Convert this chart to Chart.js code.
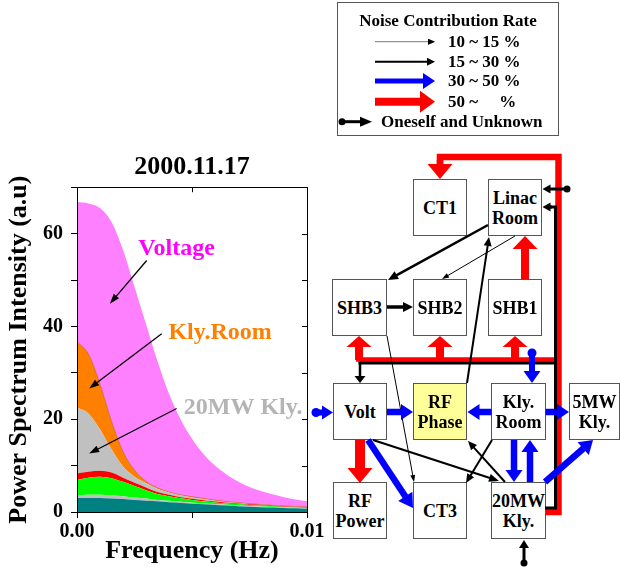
<!DOCTYPE html>
<html>
<head>
<meta charset="utf-8">
<script src="https://cdn.jsdelivr.net/npm/chart.js@4/dist/chart.umd.min.js"></script>
<style>
  body{margin:0;background:#fff;}
  #wrap{position:relative;width:620px;height:568px;overflow:hidden;font-family:"Liberation Serif","Times New Roman",serif;font-weight:bold;color:#000;}
  #c{position:absolute;left:0;top:0;}
  .box{position:absolute;box-sizing:border-box;border:1px solid #555;background:#fff;display:flex;align-items:center;justify-content:center;text-align:center;font-size:18px;line-height:20px;white-space:nowrap;}
  #diag{position:absolute;left:0;top:0;}
  .lg{position:absolute;font-size:17px;line-height:20px;white-space:pre;}
  #legend{position:absolute;left:337px;top:2px;width:222px;height:134px;box-sizing:border-box;border:1px solid #555;background:#fff;}
</style>
</head>
<body>
<div id="wrap">
  <canvas id="c" width="620" height="568" style="width:620px;height:568px"></canvas>
  <div id="legend"></div>
  <div id="boxes"></div>
  <svg id="diag" width="620" height="568" xmlns="http://www.w3.org/2000/svg"></svg>
  <div id="ltext"></div>
</div>
<script>
// ---------------- data ----------------
const freqs = [0, 0.0005, 0.001, 0.0015, 0.002, 0.0025, 0.003, 0.0035, 0.004, 0.0045, 0.005,
               0.0055, 0.006, 0.0065, 0.007, 0.0075, 0.008, 0.0085, 0.009, 0.0095, 0.01];
// cumulative tops of each stacked band (a.u)
const oneselfTop  = [3.0, 3.0, 3.0, 2.9, 2.8, 2.6, 2.45, 2.3, 2.1, 1.95, 1.8, 1.65, 1.5, 1.38, 1.25, 1.15, 1.05, 0.95, 0.87, 0.8, 0.72];
const grayLowTop  = [3.6, 3.7, 3.7, 3.6, 3.4, 3.1, 2.9, 2.6, 2.4, 2.2, 2.0, 1.85, 1.7, 1.55, 1.4, 1.3, 1.2, 1.1, 1.0, 0.9, 0.8];
const greenTop    = [6.9, 7.4, 7.6, 7.3, 6.5, 5.6, 4.7, 3.9, 3.4, 2.95, 2.6, 2.3, 2.05, 1.85, 1.7, 1.5, 1.4, 1.25, 1.1, 1.0, 0.9];
const redTop      = [8.3, 8.7, 8.9, 8.5, 7.4, 6.3, 5.3, 4.3, 3.7, 3.2, 2.85, 2.55, 2.25, 2.0, 1.85, 1.65, 1.5, 1.35, 1.2, 1.1, 1.0];
const kly20Top    = [22.5, 21.2, 17.8, 13.5, 9.8, 7.6, 6.2, 5.0, 4.2, 3.6, 3.15, 2.8, 2.45, 2.15, 1.95, 1.75, 1.55, 1.4, 1.25, 1.15, 1.05];
const klyRoomTop  = [36.7, 34.0, 27.5, 19.5, 13.0, 9.0, 6.6, 5.2, 4.3, 3.7, 3.3, 2.9, 2.55, 2.25, 2.0, 1.8, 1.6, 1.45, 1.3, 1.2, 1.1];
const voltageTop  = [66.8, 66.5, 65.5, 62.5, 56.5, 48.5, 40.5, 32.5, 25.5, 20.0, 15.8, 12.5, 10.0, 8.1, 6.6, 5.4, 4.5, 3.8, 3.2, 2.7, 2.3];
const bottomTrace = [null, null, 0.3, 0.3, 0.3, null, null, null, null, null, null, null, null, null, null, null, null, null, null, null, null];
const seriesNames = ['Oneself', 'Other', 'Green', 'Red', '20MW Kly.', 'Kly.Room', 'Voltage'];
const xTickLabels = ['0.00', '', '0.01'];
const yTickLabels = ['0', '', '20', '', '40', '', '60', ''];
const chartTitle = '2000.11.17';
const xTitle = 'Frequency (Hz)';
const yTitle = 'Power Spectrum Intensity (a.u)';
// annotation labels, anchored in data units
const noteText  = ['Voltage', 'Kly.Room', '20MW Kly.'];
const noteAt    = [[0.00433, 56.8], [0.00622, 38.7], [0.00722, 22.5]];
const noteFrom  = [[0.00303, 54.2], [0.00368, 38.4], [0.00433, 22.3]];
const noteTo    = [[0.00143, 44.9], [0.00053, 26.6], [0.00053, 12.6]];

// ---------------- styles ----------------
const FONT = '"Liberation Serif","Times New Roman",serif';
const bandColors = ['#008080', '#C0C0C0', '#00FF00', '#FF0000', '#C0C0C0', '#FF8000', '#FF80FF'];
const noteColors = ['#FF00FF', '#FF8000', '#B4B4B4'];
const tops = [oneselfTop, grayLowTop, greenTop, redTop, kly20Top, klyRoomTop, voltageTop];

const datasets = tops.map((arr, i) => ({
  label: seriesNames[i],
  data: freqs.map((f, j) => ({x: f, y: arr[j]})),
  backgroundColor: bandColors[i],
  borderColor: i === 5 ? '#B05800' : bandColors[i],
  borderWidth: i === 5 ? 0.6 : 0,
  pointRadius: 0,
  fill: i === 0 ? 'origin' : '-1',
  cubicInterpolationMode: 'monotone'
}));
datasets.push({
  label: 'trace',
  data: freqs.map((f, j) => ({x: f, y: bottomTrace[j]})),
  borderColor: '#B03030', borderWidth: 1.5, pointRadius: 0, fill: false, spanGaps: false
});

function drawArrowCtx(ctx, x1, y1, x2, y2, w, hw, hl, color) {
  const dx = x2 - x1, dy = y2 - y1, L = Math.hypot(dx, dy);
  const ux = dx / L, uy = dy / L, px = -uy, py = ux;
  const bx = x2 - ux * hl, by = y2 - uy * hl;
  ctx.save();
  ctx.strokeStyle = color; ctx.lineWidth = w;
  ctx.beginPath(); ctx.moveTo(x1, y1); ctx.lineTo(bx, by); ctx.stroke();
  ctx.fillStyle = color;
  ctx.beginPath();
  ctx.moveTo(x2, y2);
  ctx.lineTo(bx + px * hw / 2, by + py * hw / 2);
  ctx.lineTo(bx - px * hw / 2, by - py * hw / 2);
  ctx.closePath(); ctx.fill();
  ctx.restore();
}

const framePlugin = {
  id: 'frame',
  afterDraw(chart) {
    const {ctx, chartArea: a, scales: {x, y}} = chart;
    ctx.save();
    ctx.strokeStyle = '#000'; ctx.lineWidth = 1;
    ctx.strokeRect(Math.round(a.left) + 0.5, Math.round(a.top) + 0.5, Math.round(a.right - a.left), Math.round(a.bottom - a.top));
    ctx.beginPath();
    y.ticks.forEach(t => {
      const py = Math.round(y.getPixelForValue(t.value)) + 0.5;
      ctx.moveTo(a.right - 5, py); ctx.lineTo(a.right, py);
    });
    x.ticks.forEach(t => {
      const px = Math.round(x.getPixelForValue(t.value)) + 0.5;
      ctx.moveTo(px, a.top); ctx.lineTo(px, a.top + 5);
    });
    ctx.stroke();
    // annotations
    ctx.font = 'bold 24px ' + FONT;
    ctx.textAlign = 'center'; ctx.textBaseline = 'middle';
    noteText.forEach((txt, i) => {
      ctx.fillStyle = noteColors[i];
      ctx.fillText(txt, x.getPixelForValue(noteAt[i][0]), y.getPixelForValue(noteAt[i][1]));
      drawArrowCtx(ctx, x.getPixelForValue(noteFrom[i][0]), y.getPixelForValue(noteFrom[i][1]),
                   x.getPixelForValue(noteTo[i][0]), y.getPixelForValue(noteTo[i][1]), 1.3, 7, 10, '#000');
    });
    ctx.restore();
  }
};

new Chart(document.getElementById('c'), {
  type: 'line',
  data: {datasets},
  options: {
    responsive: false, animation: false,
    layout: {padding: {left: 0, top: 140, right: 313, bottom: 0}},
    plugins: {
      legend: {display: false}, tooltip: {enabled: false},
      title: {display: true, fullSize: false, text: chartTitle, color: '#000',
              font: {family: FONT, size: 26, weight: 'bold'}, padding: {top: 12, bottom: 4}},
      filler: {propagate: false}
    },
    scales: {
      x: {
        type: 'linear', min: 0, max: 0.01,
        afterFit: s => { s.height = 56; },
        ticks: {stepSize: 0.005, autoSkip: false, maxRotation: 0, color: '#000', padding: 2,
                font: {family: FONT, size: 20, weight: 'bold'},
                callback: (v, i) => xTickLabels[i]},
        grid: {drawOnChartArea: false, drawTicks: true, tickLength: 6, color: '#000'},
        border: {color: '#000', width: 1},
        title: {display: true, text: xTitle, color: '#000', font: {family: FONT, size: 26, weight: 'bold'},
                padding: {top: 0, bottom: 1}}
      },
      y: {
        min: 0, max: 70,
        afterFit: s => { s.width = 77; },
        ticks: {stepSize: 10, autoSkip: false, color: '#000', padding: 8,
                font: {family: FONT, size: 20, weight: 'bold'},
                callback: (v, i) => yTickLabels[i]},
        grid: {drawOnChartArea: false, drawTicks: true, tickLength: 6, color: '#000'},
        border: {color: '#000', width: 1},
        title: {display: true, text: yTitle, color: '#000', font: {family: FONT, size: 26, weight: 'bold'},
                padding: {top: 4, bottom: 0}}
      }
    }
  },
  plugins: [framePlugin]
});

// ---------------- diagram (schematic, not data) ----------------
const boxes = [
  ['CT1', 413, 179, 54], ['Linac<br>Room', 488, 179, 54],
  ['SHB3', 332, 279, 55], ['SHB2', 413, 279, 54], ['SHB1', 488, 279, 54],
  ['Volt', 333, 383, 54], ['RF<br>Phase', 413, 383, 54], ['Kly.<br>Room', 491, 383, 55], ['5MW<br>Kly.', 569, 383, 51],
  ['RF<br>Power', 333, 482, 54], ['CT3', 413, 482, 54], ['20MW<br>Kly.', 491, 482, 55]
];
const bx = document.getElementById('boxes');
boxes.forEach(([t, l, tp, w]) => {
  const d = document.createElement('div');
  d.className = 'box';
  d.style.left = l + 'px'; d.style.top = tp + 'px'; d.style.width = w + 'px'; d.style.height = '57px';
  if (t === 'RF<br>Phase') d.style.background = '#FFFF99';
  d.innerHTML = t;
  bx.appendChild(d);
});

const svg = document.getElementById('diag');
const NS = 'http://www.w3.org/2000/svg';
function el(name, attrs) { const e = document.createElementNS(NS, name); for (const k in attrs) e.setAttribute(k, attrs[k]); svg.appendChild(e); return e; }
function arrow(x1, y1, x2, y2, w, hw, hl, color) {
  const dx = x2 - x1, dy = y2 - y1, L = Math.hypot(dx, dy);
  const ux = dx / L, uy = dy / L, px = -uy, py = ux;
  const bxx = x2 - ux * hl, byy = y2 - uy * hl;
  el('line', {x1, y1, x2: bxx + ux * 0.5, y2: byy + uy * 0.5, stroke: color, 'stroke-width': w});
  const pts = [[x2, y2], [bxx + px * hw / 2, byy + py * hw / 2], [bxx - px * hw / 2, byy - py * hw / 2]];
  el('polygon', {points: pts.map(p => p.join(',')).join(' '), fill: color});
}
function poly(pts, w, color) { el('polyline', {points: pts.map(p => p.join(',')).join(' '), fill: 'none', stroke: color, 'stroke-width': w, 'stroke-linejoin': 'miter'}); }
function dot(x, y, r, color) { el('circle', {cx: x, cy: y, r, fill: color}); }

const R = '#FF0000', B = '#0000FF', K = '#000000';
// red loop and bus
poly([[545, 512], [558.5, 512], [558.5, 157], [440, 157], [440, 166]], 6.5, R);
arrow(440, 160, 440, 179, 6.5, 25, 15, R);
poly([[356, 359.5], [558.5, 359.5]], 4.5, R);
arrow(359, 360, 359, 336, 8, 25, 11, R);
arrow(440, 360, 440, 336, 8, 25, 11, R);
arrow(515, 360, 515, 336, 8, 25, 11, R);
arrow(525, 279, 525, 236, 8, 25, 13, R);
arrow(360, 440, 360, 483, 10, 25, 15, R);
// black loop and bus
poly([[545, 508], [555.5, 508], [555.5, 207], [550, 207]], 3, K);
arrow(552, 207, 542.5, 207, 3, 9, 8, K);
poly([[358.5, 363], [555.5, 363]], 3, K);
arrow(360, 362, 360, 383, 2.5, 11, 7, K);
dot(567, 189, 3.5, K); arrow(567, 189, 542.5, 189, 3, 9, 8, K);
dot(524, 563, 3.5, K); arrow(524, 563, 524, 540, 3, 10, 8, K);
// black medium arrows
arrow(488, 225, 388, 280, 2.5, 9, 10, K);
arrow(387, 307, 413, 307, 3.5, 10, 10, K);
arrow(467, 383, 489, 237, 2, 8, 9, K);
arrow(373, 440, 499, 481, 2.2, 8, 10, K);
arrow(492, 440, 466, 483, 2, 8, 9, K);
arrow(505, 482, 468, 441, 2, 8, 9, K);
// thin arrows
arrow(515, 236, 442, 279, 1, 5, 7, K);
arrow(387, 336, 414, 482, 1, 5, 7, K);
// blue arrows
dot(316, 412.5, 4.5, B); arrow(316, 412.5, 333, 412.5, 6, 14, 11, B);
arrow(387, 412, 413, 412, 6.5, 16, 12, B);
arrow(491.5, 412, 467.5, 412, 6.5, 16, 12, B);
arrow(545.5, 412, 569, 412, 6.5, 16, 12, B);
arrow(514, 440, 514, 482, 6.5, 17, 12, B);
arrow(530, 482, 530, 440, 6.5, 17, 12, B);
arrow(545, 482, 593, 440, 6.5, 17, 13, B);
arrow(368, 440, 413, 508, 6.5, 17, 14, B);
dot(532, 353, 4.5, B); arrow(532, 353, 532, 383, 6, 17, 12, B);

// legend
arrow(375, 41.7, 435, 41.7, 1, 6, 7, '#777');
el('polygon', {points: '435,41.7 428,38.7 428,44.7', fill: K});
arrow(375, 61.7, 435, 61.7, 2, 8, 8, K);
arrow(375, 81, 435, 81, 5, 16, 12, B);
arrow(375, 101.7, 435, 101.7, 8, 22, 15, R);
dot(342, 121.7, 3.5, K); arrow(342, 121.7, 372, 121.7, 3, 10, 12, K);

const legendRows = [
  ['Noise Contribution Rate', 337, 11, 222, 'center'],
  ['10 ~ 15 %', 448, 31.7, 0, 'left'],
  ['15 ~ 30 %', 448, 51.7, 0, 'left'],
  ['30 ~ 50 %', 448, 71, 0, 'left'],
  ['50 ~     %', 448, 91.7, 0, 'left'],
  ['Oneself and Unknown', 381, 111.7, 0, 'left']
];
const lt = document.getElementById('ltext');
legendRows.forEach(([t, l, tp, w, al]) => {
  const d = document.createElement('div');
  d.className = 'lg';
  d.style.left = l + 'px'; d.style.top = tp + 'px'; d.style.textAlign = al;
  if (w) d.style.width = w + 'px';
  d.textContent = t;
  lt.appendChild(d);
});
</script>
</body>
</html>
